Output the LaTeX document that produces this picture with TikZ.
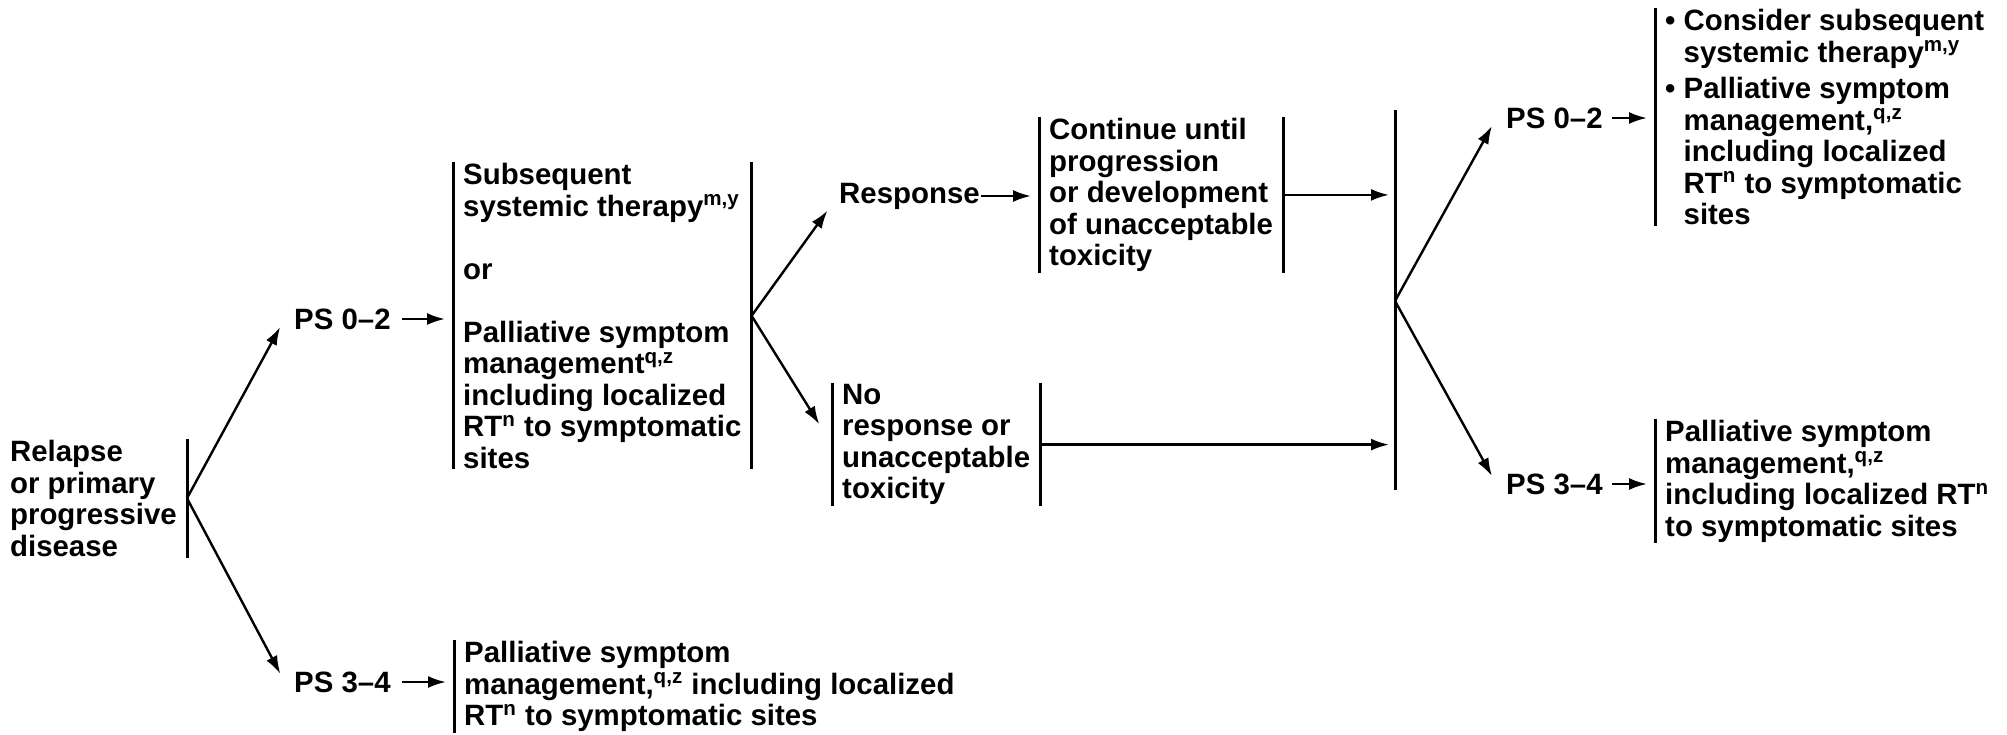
\documentclass[tikz,border=0pt]{standalone}
\usepackage{fontspec}
\setmainfont{Liberation Sans}
\usetikzlibrary{arrows.meta}

\begin{document}
\begin{tikzpicture}[x=0.5pt,y=-0.5pt,line width=1.2pt,>={Latex[length=9pt,width=6pt]},
  font=\bfseries\fontsize{14.7pt}{15.75pt}\selectfont,
  box/.style={align=left,inner xsep=4.5pt,inner ysep=0pt},
  lbl/.style={inner xsep=0pt,inner ysep=2pt},
  bar/.style={line width=1.5pt}]
\useasboundingbox (0,0) rectangle (2007,734);

% Relapse
\node (relapse) [box,anchor=north east] at (187,439) {Relapse\\or primary\\progressive\\disease};
\draw[bar] (relapse.north east) -- (relapse.south east);
\node (ps1) [lbl,anchor=west] at (293,319) {PS 0--2};
\node (ps2) [lbl,anchor=west] at (293,682) {PS 3--4};
\draw[->,shorten >=13.5pt] (relapse.east) -- (ps1.north west);
\draw[->,shorten >=13.5pt] (relapse.east) -- (ps2.south west);

% PS 0-2: therapy or palliative
\node (mid) [box,anchor=north west] at (453,162) {Subsequent\\systemic therapy\textsuperscript{m,y}\\[15.75pt]or\\[15.75pt]Palliative symptom\\management\textsuperscript{q,z}\\including localized\\RT\textsuperscript{n} to symptomatic\\sites};
\draw[bar] (mid.north west) -- (mid.south west);
\draw[bar] (mid.north east) -- (mid.south east);
\draw[->,shorten <=5pt,shorten >=4pt] (ps1.east) -- (ps1.east -| mid.west);

% PS 3-4: palliative
\node (pall1) [box,anchor=north west] at (454,640) {Palliative symptom\\management,\textsuperscript{q,z} including localized\\RT\textsuperscript{n} to symptomatic sites};
\draw[bar] (pall1.north west) -- (pall1.south west);
\draw[->,shorten <=5pt,shorten >=4pt] (ps2.east) -- (ps2.east -| pall1.west);

% Response / no response
\node (resp) [lbl,anchor=west] at (838,196) {Response};
\draw[->,shorten >=9pt] (mid.east) -- (resp.west);
\node (cont) [box,anchor=north west] at (1039,117) {Continue until\\progression\\or development\\of unacceptable\\toxicity};
\draw[bar] (cont.north west) -- (cont.south west);
\draw[bar] (cont.north east) -- (cont.south east);
\draw[->,shorten >=4pt] (resp.east) -- (resp.east -| cont.west);

\node (nores) [box,anchor=north west] at (832,383) {No\\response or\\unacceptable\\toxicity};
\draw[bar] (nores.north west) -- (nores.south west);
\draw[bar] (nores.north east) -- (nores.south east);
\draw[->,shorten >=12pt] (mid.east) -- (nores.west);

% Join
\coordinate (jtop) at (1395,110);
\coordinate (jbot) at (1395,490);
\coordinate (jmid) at (1395,301);
\draw[bar] (jtop) -- (jbot);
\draw[->,shorten >=3pt] (cont.east) -- (cont.east -| jtop);
\draw[->,shorten >=3pt] (nores.east) -- (nores.east -| jtop);

% Second PS split
\node (ps3) [lbl,anchor=west] at (1505,118) {PS 0--2};
\node (ps4) [lbl,anchor=west] at (1505,484) {PS 3--4};
\draw[->,shorten >=13.5pt] (jmid) -- (ps3.north west);
\draw[->,shorten >=13.5pt] (jmid) -- (ps4.south west);

\node (opt1) [box,anchor=north west] at (1655,8) {\textbullet\ Consider subsequent\\\phantom{\textbullet\ }systemic therapy\textsuperscript{m,y}\\[2.5pt]\textbullet\ Palliative symptom\\\phantom{\textbullet\ }management,\textsuperscript{q,z}\\\phantom{\textbullet\ }including localized\\\phantom{\textbullet\ }RT\textsuperscript{n} to symptomatic\\\phantom{\textbullet\ }sites};
\draw[bar] (opt1.north west) -- (opt1.south west);
\draw[->,shorten <=4pt,shorten >=4pt] (ps3.east) -- (ps3.east -| opt1.west);

\node (pall2) [box,anchor=north west] at (1655,419) {Palliative symptom\\management,\textsuperscript{q,z}\\including localized RT\textsuperscript{n}\\to symptomatic sites};
\draw[bar] (pall2.north west) -- (pall2.south west);
\draw[->,shorten <=4pt,shorten >=4pt] (ps4.east) -- (ps4.east -| pall2.west);
\end{tikzpicture}
\end{document}
